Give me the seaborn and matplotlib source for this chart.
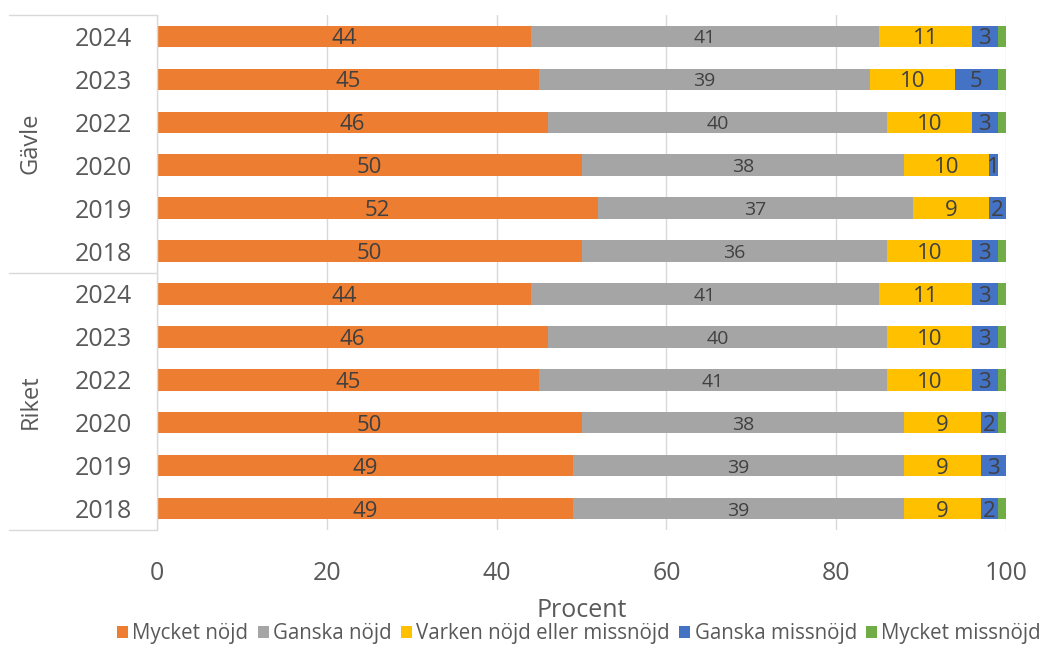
import matplotlib
matplotlib.use("Agg")
import matplotlib.pyplot as plt
from matplotlib.lines import Line2D
from matplotlib.patches import Patch
import seaborn as sns
import pandas as pd
import numpy as np

sns.set_theme(style="white")
plt.rcParams["font.family"] = ["Open Sans", "DejaVu Sans"]

# Survey results, share of respondents (percent)
groups = ["Gävle"] * 6 + ["Riket"] * 6
years = ["2024", "2023", "2022", "2020", "2019", "2018"] * 2
mycket_nojd = [44, 45, 46, 50, 52, 50, 44, 46, 45, 50, 49, 49]
ganska_nojd = [41, 39, 40, 38, 37, 36, 41, 40, 41, 38, 39, 39]
varken = [11, 10, 10, 10, 9, 10, 11, 10, 10, 9, 9, 9]
ganska_missnojd = [3, 5, 3, 1, 2, 3, 3, 3, 3, 2, 3, 2]
mycket_missnojd = [1, 1, 1, 0, 0, 1, 1, 1, 1, 1, 0, 1]

series_names = ["Mycket nöjd", "Ganska nöjd", "Varken nöjd eller missnöjd",
                "Ganska missnöjd", "Mycket missnöjd"]
series_values = [mycket_nojd, ganska_nojd, varken, ganska_missnojd, mycket_missnojd]
colors = ["#ED7D31", "#A5A5A5", "#FFC000", "#4472C4", "#70AD47"]
label_sizes = [16, 14, 16, 16, None]

keys = [f"{g} {y}" for g, y in zip(groups, years)]
df = pd.DataFrame({"key": keys})
cum = np.zeros(len(keys))
starts = []
for name, vals in zip(series_names, series_values):
    starts.append(cum.copy())
    cum = cum + np.array(vals, dtype=float)
    df[name] = cum.copy()

W, H = 1042, 646
fig = plt.figure(figsize=(W / 100, H / 100), dpi=100)
left_px, right_px, top_px, bottom_px = 157, 1006, 15, 530
ax = fig.add_axes([left_px / W, 1 - bottom_px / H,
                   (right_px - left_px) / W, (bottom_px - top_px) / H])

# Stacked bars: draw cumulative totals from the outermost segment inwards
for name, color in reversed(list(zip(series_names, colors))):
    sns.barplot(data=df, x=name, y="key", order=keys, color=color,
                width=0.5, saturation=1, ax=ax, orient="h", linewidth=0)

# Value labels centred in each segment
for start, vals, size in zip(starts, series_values, label_sizes):
    if size is None:
        continue
    for i, v in enumerate(vals):
        if v <= 0:
            continue
        ax.text(start[i] + v / 2, i, f"{v}", ha="center", va="center_baseline",
                fontsize=size, color="#404040")

ax.set_xlim(0, 100)
ax.set_ylim(len(keys) - 0.5, -0.5)
ax.set_xticks(range(0, 101, 20))
ax.tick_params(axis="x", labelsize=18, colors="#595959", length=0, pad=22)
ax.set_yticks(range(len(keys)))
ax.set_yticklabels(years)
ax.tick_params(axis="y", labelsize=18, colors="#595959", length=0, pad=18)
ax.set_ylabel("")
ax.set_xlabel("Procent", fontsize=18, color="#595959", labelpad=9)
ax.xaxis.grid(True, color="#D9D9D9", linewidth=1)
ax.yaxis.grid(False)
ax.set_axisbelow(True)
for s in ["top", "right", "bottom"]:
    ax.spines[s].set_visible(False)
ax.spines["left"].set_color("#D9D9D9")
ax.spines["left"].set_linewidth(1)

# Group axis on the left: separators and rotated group names
for y_px in (top_px, (top_px + bottom_px) / 2, bottom_px):
    fig.add_artist(Line2D([9 / W, left_px / W], [1 - y_px / H, 1 - y_px / H],
                          color="#D9D9D9", linewidth=1))
for j, g in enumerate(["Gävle", "Riket"]):
    yc = top_px + (bottom_px - top_px) * (0.25 + 0.5 * j)
    fig.text(31 / W, 1 - yc / H, g, rotation=90, ha="center", va="center",
             fontsize=17, color="#595959")

handles = [Patch(facecolor=c, edgecolor="none") for c in colors]
fig.legend(handles, series_names, loc="center", bbox_to_anchor=(579 / W, 1 - 634 / H),
           ncol=5, frameon=False, fontsize=14.8, handlelength=0.55, handleheight=0.55,
           handletextpad=0.2, columnspacing=0.45, labelcolor="#595959",
           borderpad=0, borderaxespad=0)

fig.savefig("out.png", dpi=100)
